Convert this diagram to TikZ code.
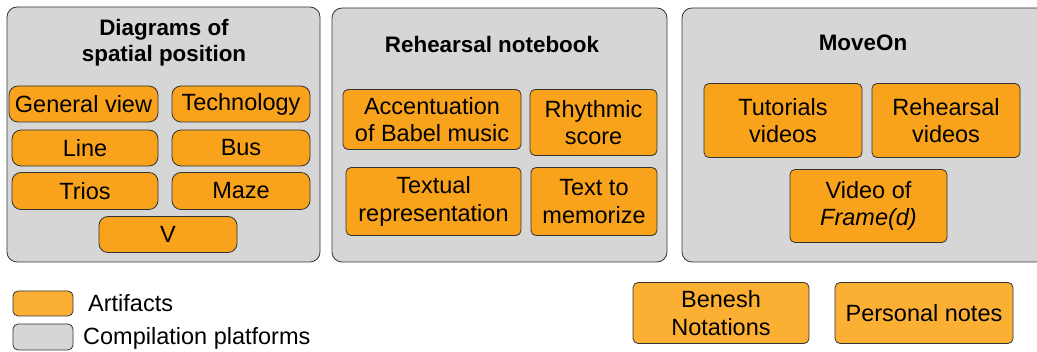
\documentclass[tikz,border=0pt]{standalone}
\usepackage{fontspec}
\setmainfont{Liberation Sans}
\definecolor{platgray}{HTML}{D6D6D6}
\definecolor{artorange}{HTML}{F8A31B}
\definecolor{artlight}{HTML}{FBB034}
\definecolor{edgegray}{HTML}{333333}
\tikzset{
  platform/.style={draw=edgegray,line width=0.8pt,fill=platgray,rounded corners=10pt,inner sep=0pt},
  artifact/.style={draw=edgegray,line width=0.8pt,fill=artorange,rounded corners=5pt,inner sep=0pt,
    align=center,font=\fontsize{23.5}{27.5}\selectfont},
  platname/.style={align=center,font=\bfseries\fontsize{22.4}{26}\selectfont},
}
\begin{document}
\begin{tikzpicture}[x=1pt,y=-1pt]
  \useasboundingbox (0,0) rectangle (1037,352);

  % platforms
  \begin{scope}
    \node [platform,minimum width=313pt,minimum height=255pt] (spatial) at (163.5,134.5) {};
    \node [platform,minimum width=335pt,minimum height=254pt] (notebook) at (499.5,135) {};
    \node [platform,minimum width=365pt,minimum height=254pt] (moveon) at (864.5,135) {};
  \end{scope}

  \node [platname] (spatialT) at (164,42.5) {Diagrams of\\spatial position};
  \node [platname] (notebookT) at (492,44) {Rehearsal notebook};
  \node [platname] (moveonT) at (863,43) {MoveOn};

  % diagrams of spatial position
  \begin{scope}[every node/.style={artifact,rounded corners=9pt,minimum height=36pt}]
    \node [minimum width=149pt] (general) at (83.5,104) {General view};
    \node [minimum width=138pt] (techno) at (241,104) {Technology};
    \node [minimum width=146pt] (line) at (85,148) {Line};
    \node [minimum width=138pt] (bus) at (241,148) {Bus};
    \node [minimum width=146pt,minimum height=37pt] (trios) at (85,191) {Trios};
    \node [minimum width=138pt,minimum height=37pt] (maze) at (241,191) {Maze};
    \node [minimum width=138pt] (V) at (168,234.5) {V};
  \end{scope}

  % rehearsal notebook
  \begin{scope}[every node/.style={artifact}]
    \node [minimum width=178pt,minimum height=60pt] (accent) at (432,119.5) {Accentuation\\of Babel music};
    \node [minimum width=127pt,minimum height=66pt] (rhythm) at (593.5,122.5) {Rhythmic\\score};
    \node [minimum width=175pt,minimum height=68pt] (textual) at (433.5,201.5) {Textual\\representation};
    \node [minimum width=126pt,minimum height=68pt] (memo) at (594,201.5) {Text to\\memorize};
  \end{scope}

  % moveon
  \begin{scope}[every node/.style={artifact}]
    \node [minimum width=158pt,minimum height=74pt] (tuto) at (783,120.5) {Tutorials\\videos};
    \node [minimum width=148pt,minimum height=74pt] (rehvid) at (946,120.5) {Rehearsal\\videos};
    \node [minimum width=157pt,minimum height=73pt] (frame) at (868.5,206) {Video of\\\textit{Frame(d)}};
  \end{scope}

  % outside any platform
  \begin{scope}[every node/.style={artifact,fill=artlight,minimum height=61pt}]
    \node [minimum width=176pt] (benesh) at (721,313) {Benesh\\Notations};
    \node [minimum width=178pt] (personal) at (924,313) {Personal notes};
  \end{scope}

  % legend
  \node [artifact,fill=artlight,minimum width=60pt,minimum height=25pt] (keyart) at (43,303.5) {};
  \node [platform,rounded corners=5pt,minimum width=60pt,minimum height=26pt] (keyplat) at (43,337) {};
  \node [anchor=west,inner sep=0pt,font=\fontsize{23.5}{27.5}\selectfont] (keyartT) at (88,303.5) {Artifacts};
  \node [anchor=west,inner sep=0pt,font=\fontsize{23.5}{27.5}\selectfont] (keyplatT) at (83,338.5) {Compilation platforms};
\end{tikzpicture}
\end{document}
